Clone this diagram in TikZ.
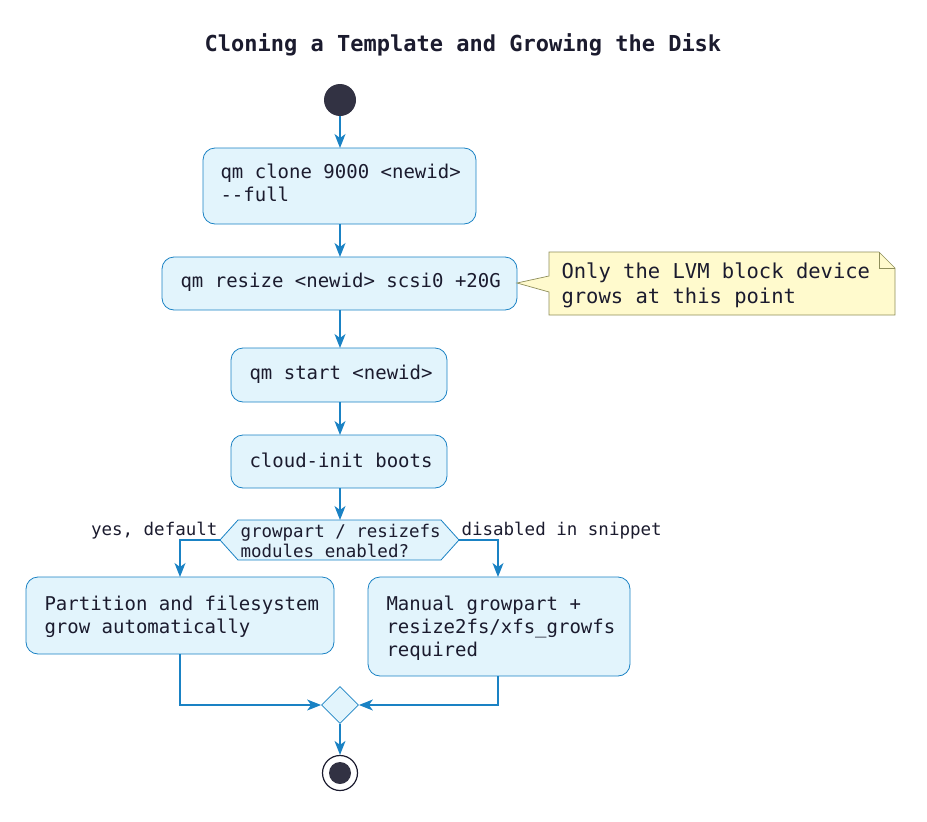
\documentclass[tikz,border=0pt]{standalone}
\usepackage{fontspec}
\setmonofont{DejaVu Sans Mono}
\usetikzlibrary{arrows.meta,shapes.geometric}
\definecolor{bfill}{HTML}{E2F4FC}
\definecolor{bline}{HTML}{1A82C4}
\definecolor{nfill}{HTML}{FFFACD}
\definecolor{nline}{HTML}{8E8E5A}
\definecolor{txt}{HTML}{1B1B2E}
\begin{document}
\begin{tikzpicture}[x=1pt,y=-1pt,
  act/.style={draw=bline,fill=bfill,rounded corners=12pt,line width=0.8pt,inner sep=0pt},
  lbl/.style={font=\ttfamily\fontsize{19}{23}\selectfont,text=txt,align=left,anchor=north west},
  flow/.style={draw=bline,line width=1.2pt,-{Stealth[length=14pt,width=11pt,inset=4pt]}},
  line/.style={draw=bline,line width=1.2pt}]
\useasboundingbox (0,0) rectangle (927,822);
\node[font=\ttfamily\bfseries\fontsize{22}{26}\selectfont,text=txt] (title) at (463,45) {Cloning a Template and Growing the Disk};
\node[circle,fill=txt!90,minimum size=32pt,inner sep=0] (start) at (340,100) {};
% boxes
\draw[act] (203,148) rectangle (476,224); \coordinate (b1t) at (340,148); \coordinate (b1b) at (340,224);
\node[lbl] (t1) at (217,160) {qm clone 9000 <newid>\\--full};
\draw[act] (162,257) rectangle (517,310); \coordinate (b2t) at (340,257); \coordinate (b2b) at (340,310);
\node[lbl] (t2) at (177,270) {qm resize <newid> scsi0 +20G};
\draw[act] (231,348) rectangle (447,402); \coordinate (b3t) at (340,348); \coordinate (b3b) at (340,402);
\node[lbl] (t3) at (246,362) {qm start <newid>};
\draw[act] (231,435) rectangle (447,488); \coordinate (b4t) at (340,435); \coordinate (b4b) at (340,488);
\node[lbl] (t4) at (246,449) {cloud-init boots};
% note
\draw[draw=nline,fill=nfill,line width=0.7pt] (549,252) -- (879,252) -- (895,268) -- (895,315) -- (549,315) -- (549,292) -- (517,283) -- (549,276) -- cycle;
\draw[draw=nline,line width=0.7pt] (879,252) -- (879,268) -- (895,268);
\node[lbl,font=\ttfamily\fontsize{20.5}{25}\selectfont] (nt) at (558,259) {Only the LVM block device\\grows at this point};
% decision
\draw[draw=bline,fill=bfill,line width=0.8pt] (220,540) -- (238,520) -- (441,520) -- (459,540) -- (441,560) -- (238,560) -- cycle;
\coordinate (dt) at (340,520); \coordinate (dl) at (220,540); \coordinate (dr) at (459,540);
\node[lbl,font=\ttfamily\fontsize{17.5}{20}\selectfont] (dtext) at (237,521) {growpart / resizefs\\modules enabled?};
\node[font=\ttfamily\fontsize{17.5}{20}\selectfont,text=txt,anchor=east] (yl) at (221,531) {yes, default};
\node[font=\ttfamily\fontsize{17.5}{20}\selectfont,text=txt,anchor=west] (nl) at (458,531) {disabled in snippet};
\draw[act] (26,577) rectangle (334,654); \coordinate (b5t) at (180,577); \coordinate (b5b) at (180,654);
\node[lbl] (t5) at (41,592) {Partition and filesystem\\grow automatically};
\draw[act] (368,577) rectangle (630,676); \coordinate (b6t) at (498,577); \coordinate (b6b) at (498,676);
\node[lbl] (t6) at (383,592) {Manual growpart +\\resize2fs/xfs\_growfs\\required};
% merge
\node[diamond,draw=bline,fill=bfill,line width=0.8pt,minimum size=37pt,inner sep=0,aspect=1] (m) at (340,705) {};
\node[circle,draw=txt,line width=1.2pt,minimum size=35pt,inner sep=0] (end) at (340,773) {};
\node[circle,fill=txt!90,minimum size=22pt,inner sep=0] (endi) at (340,773) {};
% flows
\draw[flow] (start) -- (b1t);
\draw[flow] (b1b) -- (b2t);
\draw[flow] (b2b) -- (b3t);
\draw[flow] (b3b) -- (b4t);
\draw[flow] (b4b) -- (dt);
\draw[flow] (dl) -| (b5t);
\draw[flow] (dr) -| (b6t);
\draw[flow] (b5b) |- (m.west);
\draw[flow] (b6b) |- (m.east);
\draw[flow] (m.south) -- (end.north);
\end{tikzpicture}
\end{document}
